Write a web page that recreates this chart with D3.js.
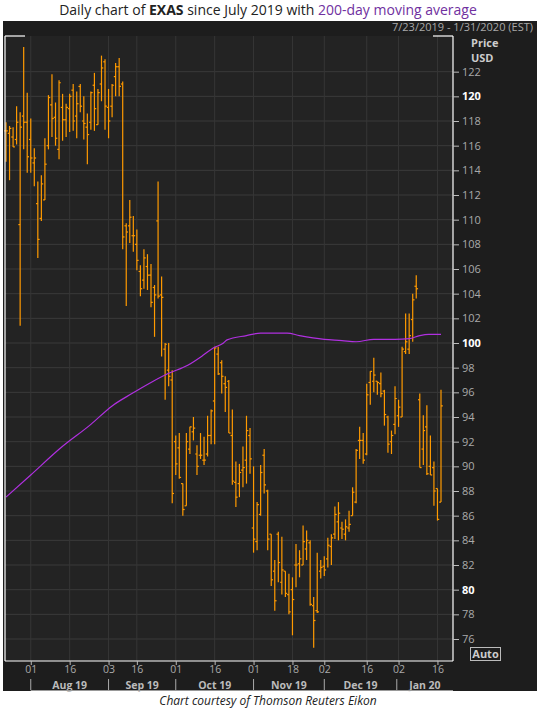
<!DOCTYPE html>
<html><head><meta charset="utf-8">
<script src="https://cdn.jsdelivr.net/npm/d3@7"></script>
<style>body{margin:0;background:#fff;font-family:"Open Sans","DejaVu Sans",sans-serif}</style>
</head><body><svg id="c" width="537" height="711"></svg>
<script>
const opens=[117.2,117.0,116.7,116.5,109.6,118.4,117.9,116.5,114.6,111.3,110.1,111.6,116.0,119.3,118.3,115.7,119.1,118.1,119.0,120.5,118.4,120.8,118.0,117.5,117.9,120.9,117.7,121.0,122.8,119.1,119.2,121.6,122.4,121.0,109.5,109.5,108.7,108.0,105.8,105.1,106.2,105.5,104.5,109.9,103.9,99.5,97.8,97.0,92.0,91.5,88.6,86.8,91.4,92.8,91.0,90.9,90.5,91.0,92.5,95.3,99.1,98.4,96.7,96.9,92.5,88.7,88.6,89.7,90.5,92.5,85.0,83.9,86.1,90.9,88.0,84.5,81.5,84.5,80.6,81.5,79.6,80.0,82.0,82.1,82.0,83.3,83.8,78.7,78.3,81.5,81.9,82.5,83.5,84.5,85.5,85.0,84.5,85.0,86.0,87.1,92.1,92.1,91.0,96.8,96.9,96.9,96.7,96.1,94.0,92.0,93.4,94.1,94.0,99.3,99.5,101.9,104.6,95.4,91.4,93.2,90.0,89.9,88.2,87.1];
const highs=[117.9,117.6,117.5,119.2,118.7,124.0,120.3,118.2,115.8,113.1,113.6,116.6,120.1,121.8,119.5,121.3,120.2,119.4,120.2,121.0,120.4,121.0,120.0,118.6,120.4,121.9,120.6,123.3,123.0,120.6,121.0,122.7,123.1,121.2,109.7,111.6,110.3,109.2,106.3,107.6,107.2,106.4,104.7,113.1,105.4,100.0,100.0,97.8,92.5,92.7,88.6,92.7,93.2,94.0,91.7,92.7,92.4,94.1,94.6,99.7,99.7,98.6,97.3,97.0,94.6,90.4,90.2,91.6,94.1,93.1,90.0,87.1,90.1,91.4,88.1,84.5,82.4,84.7,84.3,81.5,81.3,81.0,83.7,83.2,85.2,84.8,84.0,79.4,83.0,82.4,82.7,84.2,84.5,86.75,87.1,85.5,85.7,86.4,88.3,91.4,93.2,92.7,96.7,97.7,98.8,96.9,97.6,96.2,94.1,92.9,96.5,95.4,99.7,102.4,102.4,104.0,105.5,95.9,94.15,94.96,92.5,90.4,88.2,96.2];
const lows=[114.7,113.2,115.9,116.1,101.4,115.7,113.8,113.8,112.7,106.9,109.9,111.6,115.7,116.7,116.0,114.9,116.4,116.7,117.1,117.2,116.6,118.7,116.5,114.5,117.3,117.2,117.7,119.6,117.3,116.6,118.3,120.0,120.0,107.6,103.0,108.1,107.4,105.9,103.8,104.4,104.3,102.9,100.5,103.6,98.9,95.4,96.5,87.0,89.3,89.0,86.0,86.8,91.0,92.1,89.3,90.6,90.1,90.8,91.8,91.8,97.4,95.9,94.4,92.7,88.5,86.7,87.5,88.3,88.6,89.4,83.0,83.2,86.0,87.8,83.2,80.3,78.3,80.6,79.6,79.4,78.0,76.3,80.2,81.0,82.0,82.4,78.7,75.3,78.1,80.9,81.1,81.8,82.0,84.1,84.0,84.1,84.0,84.7,86.0,87.0,90.6,90.2,90.9,95.0,96.0,95.8,95.6,93.3,91.1,91.0,92.6,93.2,94.0,99.1,99.1,100.1,103.6,89.9,90.1,89.3,89.3,86.8,85.6,87.1];
const closes=[117.2,117.4,115.9,117.9,117.5,117.9,115.1,115.0,115.0,108.4,112.9,114.5,119.9,118.2,116.6,121.1,118.1,119.1,120.0,118.0,119.4,119.2,117.8,116.9,120.3,119.0,120.3,122.3,119.2,118.0,120.9,122.4,120.8,108.6,109.0,110.2,108.7,106.7,104.4,106.9,105.5,103.3,103.9,103.8,103.7,99.9,97.3,87.8,90.2,89.1,86.5,92.0,93.2,93.1,90.0,90.9,90.5,92.5,94.5,99.6,97.5,97.3,96.4,92.7,88.8,87.5,89.5,89.9,92.9,90.6,84.1,86.9,89.5,88.5,84.1,80.8,79.1,82.2,81.6,79.7,78.2,79.2,82.0,82.5,83.9,84.0,78.8,77.5,78.2,81.8,81.6,83.6,84.2,86.1,86.2,84.9,85.1,85.3,87.9,91.3,92.1,90.5,95.8,97.7,97.4,96.8,95.9,94.2,91.8,92.5,95.5,94.8,99.5,100.1,100.6,103.5,104.4,89.9,92.9,89.4,89.3,88.0,85.7,94.9];
const maIdx=[0,7,15.5,24,30,35.6,41,45.7,51.4,55.7,58.6,61.5,62.5,68,72,79.5,83,90,95,99,104,110,114,117,119.5,121.5,123];
const maVal=[87.5,89.3,91.5,93.4,94.9,95.9,96.8,97.5,98.2,99.0,99.6,100.0,100.25,100.6,100.8,100.8,100.6,100.3,100.2,100.1,100.3,100.3,100.35,100.6,100.7,100.7,100.7];
const yTicks=d3.range(76,123,2);
const boldTicks=[80,100,120];
const dayTickIdx=[7,18,29,37,48,59,70,81,90,102,111,122];
const dayTickLab=["01","16","03","16","01","16","01","18","02","16","02","16"];
const monthLab=["Aug 19","Sep 19","Oct 19","Nov 19","Dec 19","Jan 20"];
const monthStart=[7,29,48,70,90,110.5];
const monthEnd=[29,48,70,90,110.5,128];

const svg=d3.select("#c");
const L=5,R=453,T=36,B=661;
const x=d3.scaleLinear().domain([0,opens.length-1]).range([6,441]);
const y=d3.scaleLinear().domain([100,76]).range([343,639]);

svg.append("text").attr("x",268).attr("y",15).attr("text-anchor","middle").attr("font-size",14).attr("fill","#222")
 .html('Daily chart of <tspan font-weight="bold">EXAS</tspan> since July 2019 with <tspan fill="#7030a0">200-day moving average</tspan>');
svg.append("rect").attr("x",3).attr("y",21).attr("width",534).attr("height",670).attr("fill","#1d1d1d");
svg.append("rect").attr("x",L).attr("y",T).attr("width",R-L).attr("height",B-T).attr("fill","#232323");
svg.append("text").attr("x",533).attr("y",31).attr("text-anchor","end").attr("font-size",11).attr("fill","#a8a8a8").text("7/23/2019 - 1/31/2020 (EST)");

const g=svg.append("g");
yTicks.forEach(v=>g.append("line").attr("x1",L).attr("x2",R).attr("y1",y(v)).attr("y2",y(v)).attr("stroke","#3a3a3a"));
dayTickIdx.forEach(i=>g.append("line").attr("x1",x(i)).attr("x2",x(i)).attr("y1",T).attr("y2",B).attr("stroke","#363636"));

svg.append("line").attr("x1",L).attr("x2",L).attr("y1",T).attr("y2",B).attr("stroke","#fff").attr("stroke-width",1.2);
svg.append("line").attr("x1",R).attr("x2",R).attr("y1",T).attr("y2",B).attr("stroke","#fff").attr("stroke-width",1.2);
svg.append("line").attr("x1",L).attr("x2",R).attr("y1",B).attr("y2",B).attr("stroke","#fff").attr("stroke-width",1.2);
svg.append("line").attr("x1",L).attr("x2",25).attr("y1",T).attr("y2",T).attr("stroke","#fff").attr("stroke-width",1.2);
svg.append("line").attr("x1",433).attr("x2",R).attr("y1",T).attr("y2",T).attr("stroke","#fff").attr("stroke-width",1.2);

const ya=svg.append("g").attr("transform",`translate(${R},0)`).call(d3.axisRight(y).tickValues(yTicks).tickSize(6).tickPadding(3));
ya.select(".domain").remove();
ya.selectAll("line").attr("stroke","#bbb");
ya.selectAll("text").attr("font-size",11).attr("fill",d=>boldTicks.includes(d)?"#fff":"#aaa")
  .attr("font-weight",d=>boldTicks.includes(d)?"bold":"normal").attr("font-family","'Open Sans',sans-serif");
svg.append("text").attr("x",471).attr("y",47).attr("font-size",11).attr("font-weight","bold").attr("fill","#ccc").text("Price");
svg.append("text").attr("x",471).attr("y",62).attr("font-size",11).attr("font-weight","bold").attr("fill","#ccc").text("USD");
svg.append("rect").attr("x",470.5).attr("y",647.5).attr("width",30).attr("height",13).attr("fill","none").attr("stroke","#bbb");
svg.append("text").attr("x",485.5).attr("y",658).attr("text-anchor","middle").attr("font-size",11).attr("font-weight","bold").attr("fill","#ccc").text("Auto");

const bars=g.selectAll("g.b").data(opens.map((o,i)=>({i,o,h:highs[i],l:lows[i],c:closes[i]}))).join("g");
const col="#ff9a00";
bars.append("line").attr("x1",d=>x(d.i)).attr("x2",d=>x(d.i)).attr("y1",d=>y(d.h)).attr("y2",d=>y(d.l)).attr("stroke",col).attr("stroke-width",1.2);
bars.append("line").attr("x1",d=>x(d.i)-1.8).attr("x2",d=>x(d.i)).attr("y1",d=>y(d.o)).attr("y2",d=>y(d.o)).attr("stroke",col).attr("stroke-width",1.2);
bars.append("line").attr("x1",d=>x(d.i)).attr("x2",d=>x(d.i)+1.8).attr("y1",d=>y(d.c)).attr("y2",d=>y(d.c)).attr("stroke",col).attr("stroke-width",1.2);

g.append("path").attr("d",d3.line().curve(d3.curveMonotoneX).x(d=>x(d[0])).y(d=>y(d[1]))(maIdx.map((v,i)=>[v,maVal[i]])))
 .attr("fill","none").attr("stroke","#b030e0").attr("stroke-width",1.2);

const xa=svg.append("g").attr("transform",`translate(0,${B})`).call(d3.axisBottom(x).tickValues(dayTickIdx).tickFormat((d,i)=>dayTickLab[i]).tickSize(4).tickPadding(1));
xa.select(".domain").remove();
xa.selectAll("line").attr("stroke","#bbb");
xa.selectAll("text").attr("font-size",10.5).attr("fill","#aaa").attr("font-family","'Open Sans',sans-serif");
monthStart.forEach((s,i)=>{
  svg.append("line").attr("x1",x(s)).attr("x2",x(s)).attr("y1",679).attr("y2",690).attr("stroke","#aaa");
  const cx=(x(s)+Math.min(x(monthEnd[i]),R))/2;
  svg.append("text").attr("x",cx).attr("y",689).attr("text-anchor","middle").attr("font-size",10.5).attr("font-weight","bold").attr("fill","#bbb").text(monthLab[i]);
});
svg.append("line").attr("x1",x(7)).attr("x2",R).attr("y1",690.5).attr("y2",690.5).attr("stroke","#999");
svg.append("text").attr("x",268).attr("y",705).attr("text-anchor","middle").attr("font-size",12).attr("font-style","italic").attr("fill","#222").text("Chart courtesy of Thomson Reuters Eikon");
</script></body></html>
